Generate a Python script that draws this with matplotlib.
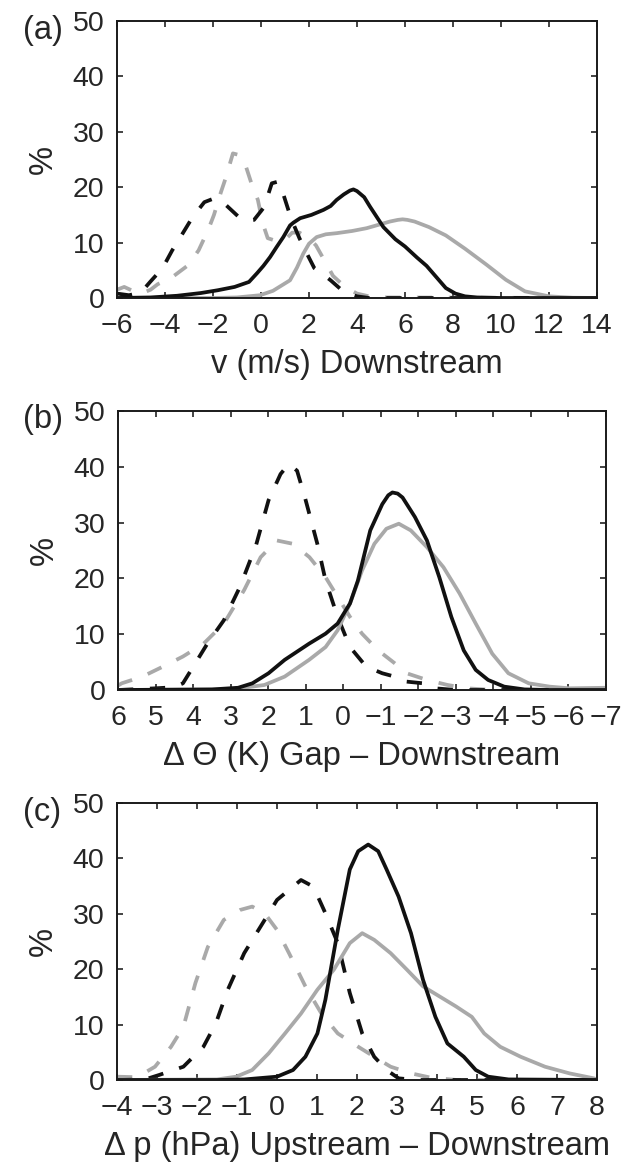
import matplotlib
matplotlib.use("Agg")
import matplotlib.pyplot as plt

plt.rcParams["font.family"] = ["Liberation Sans", "DejaVu Sans"]
plt.rcParams["lines.scale_dashes"] = False

# ---------------- (a) downstream wind speed ----------------
a_ticks = [-6, -4, -2, 0, 2, 4, 6, 8, 10, 12, 14]

a_solid_black_x = [-6, -4.6, -3.5, -2.5, -1.8, -1.1, -0.5, -0.16, 0.1, 0.38, 0.65, 0.93,
                   1.21, 1.35, 1.63, 2.1, 2.6, 2.9, 3.15, 3.45, 3.71, 3.85, 4.0, 4.3, 4.54,
                   5.1, 5.6, 6.0, 6.5, 6.9, 7.3, 7.7, 8.1, 8.5, 9, 10, 14]
a_solid_black_y = [0, 0.1, 0.4, 0.9, 1.4, 2.0, 2.9, 4.5, 5.8, 7.4, 9.2, 11.0,
                   13.1, 13.6, 14.4, 15.0, 15.9, 16.6, 17.7, 18.7, 19.4, 19.6, 19.3, 18.2, 16.5,
                   12.8, 10.6, 9.3, 7.3, 5.8, 3.8, 1.8, 0.8, 0.3, 0.1, 0, 0]

a_solid_gray_x = [-6, -2, -1, -0.04, 0.5, 1.21, 1.5, 1.76, 2.0, 2.32, 2.7, 3.15, 3.8, 4.4,
                  5.37, 5.7, 5.9, 6.1, 6.4, 7.0, 7.7, 8.5, 9.4, 10.2, 11.0, 12.0, 13, 14]
a_solid_gray_y = [0, 0, 0.1, 0.5, 1.3, 3.2, 5.5, 8.0, 9.8, 11.0, 11.5, 11.7, 12.1, 12.6,
                  13.8, 14.1, 14.2, 14.1, 13.8, 12.8, 11.3, 8.9, 6.0, 3.3, 1.2, 0.3, 0.05, 0]

a_dash_black_x = [-6, -5.5, -5, -4.6, -4.1, -3.7, -3.3, -2.85, -2.36, -2.0, -1.54, -0.92,
                  -0.6, -0.29, 0.13, 0.45, 0.7, 0.94, 1.25, 1.6, 1.95, 2.22, 2.6, 2.9, 3.45,
                  4.0, 4.5, 14]
a_dash_black_y = [0.8, 0.5, 1.0, 3.0, 5.4, 8.6, 11.4, 14.6, 17.3, 17.9, 17.1, 14.6,
                  14.0, 14.1, 16.4, 20.7, 21.0, 18.6, 14.4, 10.8, 7.7, 5.4, 4.2, 3.2, 1.1,
                  0.3, 0, 0]

a_dash_gray_x = [-6, -5.7, -5.3, -5, -4.6, -4.3, -3.75, -3.04, -2.6, -2.2, -1.96, -1.67,
                 -1.46, -1.17, -0.9, -0.67, -0.4, -0.13, 0.07, 0.28, 0.7, 1.0, 1.3, 1.6,
                 2.0, 2.29, 2.64, 3.0, 3.5, 4.0, 4.5, 5.0, 14]
a_dash_gray_y = [1.5, 2.0, 1.2, 0.8, 1.5, 2.5, 3.6, 5.9, 8.6, 12.3, 15.0, 19.1,
                 21.8, 26.1, 25.8, 24.3, 20.7, 17.7, 13.5, 10.8, 10.2, 10.5, 11.8, 11.8,
                 10.8, 9.5, 6.8, 4.0, 2.0, 0.8, 0.3, 0.1, 0]

# ---------------- (b) potential temperature difference ----------------
b_ticks = [6, 5, 4, 3, 2, 1, 0, -1, -2, -3, -4, -5, -6, -7]

b_solid_black_x = [6, 3.5, 2.8, 2.42, 1.99, 1.56, 0.91, 0.47, 0.15, -0.18, -0.39, -0.72,
                   -1.04, -1.2, -1.31, -1.45, -1.58, -1.91, -2.23, -2.56, -2.88, -3.21, -3.53,
                   -3.86, -4.29, -4.83, -5.5, -7]
b_solid_black_y = [0, 0.1, 0.4, 1.2, 3.0, 5.4, 8.3, 10.1, 11.9, 15.5, 19.6, 28.6,
                   33.3, 34.9, 35.4, 35.2, 34.5, 31.0, 26.8, 20.2, 13.1, 7.1, 3.6,
                   1.8, 0.6, 0.1, 0, 0]

b_solid_gray_x = [6, 3, 2.1, 1.56, 0.91, 0.47, 0.15, -0.18, -0.5, -0.83, -1.15, -1.48,
                  -1.8, -2.23, -2.67, -3.1, -3.53, -3.97, -4.4, -4.94, -5.5, -6.03, -7]
b_solid_gray_y = [0, 0.1, 0.9, 2.4, 5.4, 7.7, 10.7, 15.5, 21.4, 26.2, 28.9, 29.8,
                  28.6, 25.6, 22.0, 17.3, 11.9, 6.5, 3.0, 1.2, 0.6, 0.3, 0.4]

b_dash_black_x = [6, 5, 4.5, 4.27, 3.94, 3.62, 3.18, 2.75, 2.32, 1.99, 1.67, 1.45, 1.23,
                  1.02, 0.69, 0.47, 0.15, -0.18, -0.61, -1.04, -1.37, -1.69, -2.13, -2.45,
                  -3, -7]
b_dash_black_y = [0, 0.3, 0.5, 1.2, 4.8, 8.3, 12.5, 18.5, 26.0, 34.0, 38.7, 40.5, 39.3,
                  34.5, 26.2, 19.6, 13.1, 7.7, 4.2, 3.0, 2.4, 1.5, 1.2, 0.3,
                  0, 0]

b_dash_gray_x = [6, 5.9, 5.35, 4.8, 4.27, 3.72, 3.18, 2.64, 2.2, 1.77, 1.34, 0.9, 0.47,
                 0.15, -0.18, -0.5, -0.93, -1.37, -1.69, -2.23, -2.78, -3.3, -4, -7]
b_dash_gray_y = [0.8, 1.2, 2.4, 4.2, 6.0, 8.3, 11.9, 17.9, 23.8, 26.8, 26.2, 23.8, 20.2,
                 16.7, 13.1, 10.1, 7.1, 4.8, 3.0, 1.8, 0.9, 0.3, 0, 0]

# ---------------- (c) pressure difference ----------------
c_ticks = [-4, -3, -2, -1, 0, 1, 2, 3, 4, 5, 6, 7, 8]

c_solid_black_x = [-4, -1.5, -0.82, 0, 0.4, 0.71, 1.01, 1.21, 1.52, 1.82, 2.03, 2.28, 2.53,
                   2.74, 3.04, 3.35, 3.65, 3.96, 4.26, 4.67, 4.97, 5.28, 5.79, 8]
c_solid_black_y = [0, 0, 0.1, 0.6, 1.8, 4.2, 8.4, 14.5, 27.1, 38.0, 41.3, 42.5, 41.3,
                   38.0, 33.1, 26.5, 18.1, 11.4, 6.6, 4.2, 1.8, 0.6, 0.1, 0]

c_solid_gray_x = [-4, -1.5, -1.02, -0.62, -0.21, 0.2, 0.6, 1.01, 1.42, 1.82, 2.13, 2.43,
                  2.84, 3.25, 3.65, 4.06, 4.47, 4.87, 5.18, 5.58, 6.09, 6.7, 7.31, 7.92, 8]
c_solid_gray_y = [0, 0.1, 0.6, 1.8, 4.8, 8.4, 12.0, 16.3, 19.9, 24.7, 26.5, 25.3,
                  22.9, 19.9, 16.9, 15.1, 13.3, 11.4, 8.4, 6.0, 4.2, 2.4, 1.2, 0.3, 0.1]

c_dash_black_x = [-4, -3.3, -2.95, -2.34, -1.84, -1.53, -1.23, -0.82, -0.41, 0, 0.4, 0.6,
                  0.91, 1.21, 1.52, 1.82, 2.13, 2.43, 2.74, 3.04, 3.5, 8]
c_dash_black_y = [0, 0.1, 0.9, 2.4, 6.0, 10.2, 16.3, 22.9, 27.7, 32.5, 34.9, 36.1,
                  34.9, 30.1, 24.7, 15.7, 8.4, 4.2, 1.8, 0.3, 0, 0]

c_dash_gray_x = [-4, -3.5, -3.05, -2.65, -2.34, -2.04, -1.73, -1.33, -0.92, -0.62, -0.31,
                 0, 0.3, 0.71, 1.11, 1.52, 2.03, 2.43, 2.84, 3.35, 3.86, 4.5, 8]
c_dash_gray_y = [0.6, 0.5, 2.4, 6.0, 9.6, 17.5, 24.0, 28.9, 30.7, 31.3, 30.1,
                 27.1, 22.9, 16.9, 12.0, 8.4, 6.0, 4.2, 2.4, 1.2, 0.4, 0, 0]

y_ticks = [0, 10, 20, 30, 40, 50]

panel_tags = ["(a)", "(b)", "(c)"]
x_labels = ["v (m/s) Downstream",
            "\u0394 \u0398 (K) Gap \u2013 Downstream",
            "\u0394 p (hPa) Upstream \u2013 Downstream"]

BLACK = "#111111"
GRAY = "#a9a9a9"
TEXT = "#262626"
LW = 2.7
DASH = (11, 12)

TICK_FS = 20.5
LABEL_FS = 23.5

fig = plt.figure(figsize=(6.31, 11.64), dpi=100)

# axes rectangles in figure fractions (left, bottom, width, height)
rects = [
    (117 / 631, 1 - 298 / 1164, 480 / 631, 277 / 1164),
    (118 / 631, 1 - 690 / 1164, 488 / 631, 279 / 1164),
    (117 / 631, 1 - 1080 / 1164, 480 / 631, 277 / 1164),
]

panels = [
    (a_ticks, (-6, 14),
     (a_solid_black_x, a_solid_black_y), (a_solid_gray_x, a_solid_gray_y),
     (a_dash_black_x, a_dash_black_y), (a_dash_gray_x, a_dash_gray_y)),
    (b_ticks, (6, -7),
     (b_solid_black_x, b_solid_black_y), (b_solid_gray_x, b_solid_gray_y),
     (b_dash_black_x, b_dash_black_y), (b_dash_gray_x, b_dash_gray_y)),
    (c_ticks, (-4, 8),
     (c_solid_black_x, c_solid_black_y), (c_solid_gray_x, c_solid_gray_y),
     (c_dash_black_x, c_dash_black_y), (c_dash_gray_x, c_dash_gray_y)),
]

for i, (rect, panel) in enumerate(zip(rects, panels)):
    ticks, xlim, sk, sg, dk, dg = panel
    ax = fig.add_axes(rect)

    ax.plot(*dg, color=GRAY, lw=LW, dashes=DASH, dash_joinstyle="round")
    ax.plot(*dk, color=BLACK, lw=LW, dashes=DASH, dash_joinstyle="round")
    ax.plot(*sg, color=GRAY, lw=LW, solid_joinstyle="round", solid_capstyle="round")
    ax.plot(*sk, color=BLACK, lw=LW, solid_joinstyle="round", solid_capstyle="round")

    ax.set_xlim(*xlim)
    ax.set_ylim(0, 50)
    ax.set_xticks(ticks)
    ax.set_xticklabels([f"{t:d}".replace("-", "\u2212") for t in ticks])
    ax.set_yticks(y_ticks)
    ax.set_yticklabels([str(t) for t in y_ticks])

    ax.tick_params(direction="in", top=True, right=True, length=4, width=1.1,
                   colors=BLACK, labelcolor=TEXT, labelsize=TICK_FS)
    ax.tick_params(axis="x", pad=11)
    ax.tick_params(axis="y", pad=9)
    for sp in ax.spines.values():
        sp.set_linewidth(1.4)
        sp.set_color("#1a1a1a")

    ax.set_xlabel(x_labels[i], fontsize=LABEL_FS, color=TEXT, labelpad=7)
    ax.set_ylabel("%", fontsize=LABEL_FS, color=TEXT, labelpad=10)

    top_px = 1164 * (1 - (rect[1] + rect[3]))
    fig.text(23 / 631, 1 - (top_px + 9) / 1164, panel_tags[i], fontsize=LABEL_FS,
             color=TEXT, ha="left", va="center")

fig.savefig("out.png", dpi=100)
